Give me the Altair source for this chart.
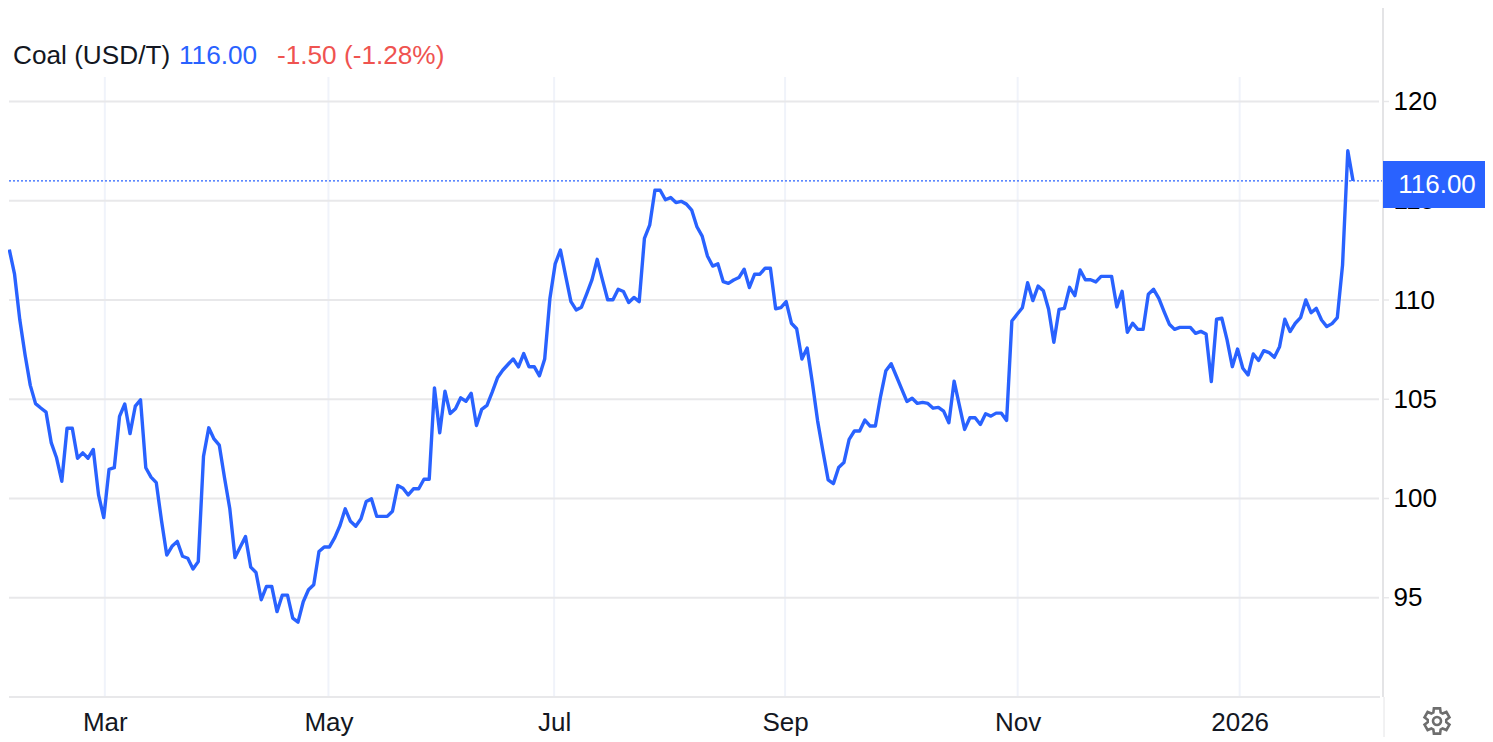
import math
import altair as alt
import pandas as pd

coal_close = [
    112.54, 111.3, 109.0, 107.24, 105.7, 104.78, 104.56, 104.35, 102.8, 102.05,
    100.87, 103.54, 103.54, 102.03, 102.3, 102.03, 102.47, 100.18, 99.04, 101.47,
    101.55, 104.14, 104.76, 103.27, 104.65, 104.97, 101.55, 101.08, 100.8, 98.88,
    97.15, 97.59, 97.84, 97.09, 96.99, 96.45, 96.82, 102.13, 103.56, 103.0,
    102.69, 101.05, 99.5, 97.03, 97.56, 98.08, 96.54, 96.27, 94.9, 95.57,
    95.57, 94.3, 95.13, 95.13, 93.97, 93.77, 94.8, 95.4, 95.65, 97.33,
    97.56, 97.56, 98.03, 98.64, 99.48, 98.85, 98.6, 98.98, 99.85, 99.98,
    99.1, 99.1, 99.1, 99.36, 100.65, 100.52, 100.18, 100.49, 100.49, 100.97,
    100.97, 105.57, 103.31, 105.41, 104.28, 104.52, 105.07, 104.9, 105.3, 103.68,
    104.49, 104.69, 105.36, 106.08, 106.46, 106.75, 107.03, 106.63, 107.3, 106.64,
    106.64, 106.18, 107.03, 110.09, 111.82, 112.52, 111.2, 109.92, 109.5, 109.64,
    110.31, 111.01, 112.05, 111.01, 110.01, 110.01, 110.54, 110.43, 109.87, 110.13,
    109.92, 113.1, 113.77, 115.53, 115.53, 115.05, 115.16, 114.91, 114.97, 114.83,
    114.53, 113.69, 113.22, 112.22, 111.71, 111.82, 110.93, 110.84, 111.01, 111.13,
    111.55, 110.63, 111.3, 111.3, 111.6, 111.6, 109.56, 109.62, 109.92, 108.83,
    108.55, 107.03, 107.58, 105.82, 103.9, 102.39, 100.94, 100.75, 101.56, 101.81,
    102.98, 103.4, 103.4, 103.95, 103.65, 103.65, 105.16, 106.44, 106.79, 106.16,
    105.52, 104.89, 105.05, 104.79, 104.84, 104.79, 104.55, 104.59, 104.4, 103.82,
    105.91, 104.69, 103.48, 104.07, 104.07, 103.73, 104.27, 104.15, 104.3, 104.3,
    103.93, 108.94, 109.28, 109.61, 110.87, 109.97, 110.7, 110.47, 109.53, 107.87,
    109.53, 109.58, 110.64, 110.22, 111.51, 111.02, 111.02, 110.91, 111.19, 111.19,
    111.19, 109.65, 110.44, 108.37, 108.83, 108.52, 108.52, 110.29, 110.54, 110.08,
    109.41, 108.78, 108.52, 108.62, 108.62, 108.62, 108.32, 108.42, 108.29, 105.89,
    109.03, 109.08, 107.99, 106.64, 107.53, 106.56, 106.22, 107.28, 106.95, 107.45,
    107.35, 107.11, 107.65, 109.03, 108.41, 108.83, 109.11, 110.0, 109.36, 109.58,
    108.99, 108.66, 108.81, 109.11, 111.76, 117.52, 116.0,
]
month_sessions = [18.2, 60.8, 103.8, 147.8, 192.1, 234.4]
month_labels = ["Mar", "May", "Jul", "Sep", "Nov", "2026"]
price_ticks = [95, 100, 105, 110, 115, 120]
last_price = 116.0
header_texts = ["Coal (USD/T)", "116.00", "-1.50 (-1.28%)"]
header_colors = ["#131722", "#2962FF", "#EF5350"]
header_offsets = [5, 171, 269]

FONT = "Liberation Sans"
BLUE = "#2962FF"
GRID_H = "#E8E8EA"
GRID_V = "#F0F3FA"
AXIS = "#E4E4E6"
W, H = 1374, 689
RIGHT, BOTTOM = 103, 40

x_scale = alt.Scale(domain=[-1.3 / 5.249, (W - 1.3) / 5.249], nice=False, zero=False)
y_scale = alt.Scale(domain=[90, 90 + H / 19.85], nice=False, zero=False)

label_expr = "".join(
    f"datum.value == {v} ? '{l}' : " for v, l in zip(month_sessions, month_labels)
) + "''"

x_axis = alt.Axis(values=month_sessions, labelExpr=label_expr, grid=False, domain=False,
                  ticks=False, labelFont=FONT, labelFontSize=26, labelColor="#131722",
                  labelPadding=25, labelOverlap=False, labelBaseline="middle", labelFlush=False,
                  title=None)
y_axis = alt.Axis(orient="right", values=price_ticks, grid=False, domain=False, ticks=False,
                  labelFont=FONT, labelFontSize=26, labelColor="#000000", labelPadding=11,
                  labelOverlap=False, title=None)

df = pd.DataFrame({"session": range(len(coal_close)), "close": coal_close})
ticks_df = pd.DataFrame({"s": month_sessions})
prices_df = pd.DataFrame({"p": price_ticks})
one = pd.DataFrame({"a": [0]})

X = lambda f: alt.X(f, scale=x_scale, axis=x_axis)
Y = lambda f: alt.Y(f, scale=y_scale, axis=y_axis)

line = alt.Chart(df).mark_line(color=BLUE, strokeWidth=3.4, strokeJoin="round", clip=False).encode(
    x=X("session:Q"), y=Y("close:Q")
)

v_grid = alt.Chart(ticks_df).mark_rule(color=GRID_V, strokeWidth=2).encode(
    x=X("s:Q"), y=alt.value(69), y2=alt.value(H)
)
h_grid = alt.Chart(prices_df).mark_rule(color=GRID_H, strokeWidth=2).encode(
    y=Y("p:Q"), x=alt.value(1), x2=alt.value(W - 3)
)
h_tick = alt.Chart(prices_df).mark_rule(color=GRID_H, strokeWidth=1.5).encode(
    y=Y("p:Q"), x=alt.value(W), x2=alt.value(W + 7)
)
base_line = alt.Chart(pd.DataFrame({"p": [90]})).mark_rule(color=GRID_H, strokeWidth=2).encode(
    y=Y("p:Q"), x=alt.value(1), x2=alt.value(W - 2)
)
price_axis_line = alt.Chart(one).mark_rule(color=AXIS, strokeWidth=2).encode(
    x=alt.value(W + 1), y=alt.value(0), y2=alt.value(H)
)
lower_line = alt.Chart(one).mark_rule(color=AXIS, strokeWidth=1).encode(
    x=alt.value(W + 2), y=alt.value(H), y2=alt.value(H + BOTTOM)
)
last_rule = alt.Chart(pd.DataFrame({"p": [last_price]})).mark_rule(
    color=BLUE, strokeWidth=1.3, strokeDash=[2, 2]
).encode(y=Y("p:Q"), x=alt.value(1), x2=alt.value(W))

badge = alt.Chart(one).mark_rect(color=BLUE).encode(
    x=alt.value(W + 1), x2=alt.value(W + RIGHT), y=alt.value(153), y2=alt.value(200)
)
badge_text = alt.Chart(pd.DataFrame({"t": [f"{last_price:.2f}"]})).mark_text(
    font=FONT, fontSize=26, color="#FFFFFF", align="center", baseline="middle"
).encode(text="t:N", x=alt.value(W + 55), y=alt.value(177))

header_layers = [
    alt.Chart(pd.DataFrame({"t": [t]})).mark_text(
        font=FONT, fontSize=26.2, align="left", baseline="middle", color=c
    ).encode(text="t:N", x=alt.value(o), y=alt.value(48))
    for t, c, o in zip(header_texts, header_colors, header_offsets)
]

# settings icon: six-toothed gear outline
pts = []
for k in range(6):
    a = k * math.pi / 3
    for da, r in [(-0.40, 0.72), (-0.24, 1.0), (0.24, 1.0), (0.40, 0.72)]:
        pts.append((r * math.sin(a + da), -r * math.cos(a + da)))
gear_path = "M" + "L".join(f"{x:.3f},{y:.3f}" for x, y in pts) + "Z"
gear = alt.Chart(one).mark_point(
    shape=gear_path, size=676, stroke="#6E6E6E", strokeWidth=2.6, filled=False, opacity=1
).encode(x=alt.value(1429), y=alt.value(713))
gear_hole = alt.Chart(one).mark_point(
    shape="circle", size=64, stroke="#6E6E6E", strokeWidth=2.6, filled=False, opacity=1
).encode(x=alt.value(1429), y=alt.value(713))

chart = alt.layer(
    v_grid, h_grid, h_tick, base_line, price_axis_line, lower_line,
    last_rule, line, badge, badge_text, *header_layers, gear, gear_hole,
).properties(
    width=W, height=H,
    padding={"left": 0, "top": 0, "right": RIGHT, "bottom": BOTTOM},
    autosize=alt.AutoSizeParams(type="none"),
    background="#FFFFFF",
).configure_view(stroke=None)

chart.save("out.html", embed_options={"renderer": "svg", "actions": False})
